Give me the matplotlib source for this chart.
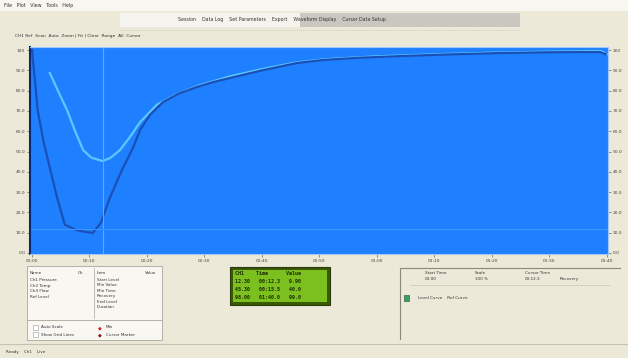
import matplotlib
matplotlib.use('Agg')
import matplotlib.pyplot as plt
from matplotlib.patches import Rectangle

W, H = 628, 358

# curves (x in %, y in %)
dark_x = [0, 1, 2, 3.1, 4.3, 5.7, 7.5, 9, 10.6, 12, 13.6, 15.5, 17.6, 18.8,
          20.5, 22.8, 25.5, 28.7, 31.5, 34.4, 40.2, 46.1, 50.6, 57, 64, 72,
          81.4, 90, 96, 98.8, 99.8]
dark_y = [100, 70, 55, 42, 28, 14, 11.5, 10.5, 9.9, 15, 27.6, 40, 52, 60.6,
          68, 74.4, 78.5, 81.8, 84.2, 86.2, 90.1, 93.6, 95.1, 96.2, 97, 97.8,
          98.5, 98.9, 99, 99, 98]
light_x = [3.1, 4.5, 6.1, 7.5, 8.9, 10.3, 12.3, 13.6, 15.3, 17, 18.8, 21.7,
           25, 29, 34.4, 40, 46, 51, 60, 70, 80, 90, 99, 100]
light_y = [88.7, 80, 70.4, 60, 50.7, 47, 45.3, 46.8, 50.7, 57, 64.5, 73, 78,
           82.5, 87, 90.6, 93.9, 95.5, 96.9, 97.9, 98.7, 99.2, 99.5, 98]
cursor_x = 12.3
cursor_y = 12

x_ticks = list(range(0, 101, 10))
x_labels = ['00:00', '00:10', '00:20', '00:30', '00:40', '00:50',
            '01:00', '01:10', '01:20', '01:30', '01:40']
y_ticks = list(range(0, 101, 10))
y_labels = ['0.0', '10.0', '20.0', '30.0', '40.0', '50.0',
            '60.0', '70.0', '80.0', '90.0', '100']

bg = '#ece9d8'
plot_blue = '#1f80ff'


def fx(px):
    return px / W


def fy(py):
    return 1 - py / H


def rect(x0, y0, x1, y1, **kw):
    fig.add_artist(Rectangle((fx(x0), fy(y1)), fx(x1) - fx(x0),
                             (y1 - y0) / H, transform=fig.transFigure, **kw))


def txt(px, py, s, size=3.6, color='#333333', **kw):
    fig.text(fx(px), fy(py), s, fontsize=size, color=color,
             va='center', **kw)


fig = plt.figure(figsize=(W / 100, H / 100), dpi=100)
fig.patch.set_facecolor(bg)

# menu bar and toolbar
rect(0, 0, W, 11, facecolor='#f7f6f0', edgecolor='none')
txt(4, 6, 'File   Plot   View   Tools   Help', size=3.4)
rect(120, 13, 300, 27, facecolor='#f4f3ee', edgecolor='none')
rect(300, 13, 520, 27, facecolor='#c9c7c0', edgecolor='none')
txt(178, 20, 'Session    Data Log    Set Parameters    Export    '
    'Waveform Display    Cursor Data Setup', size=3.4)
fig.add_artist(plt.Line2D([fx(120), fx(520)], [fy(30), fy(30)],
                          transform=fig.transFigure, color='#b8b6a8',
                          lw=0.5, ls=':'))
txt(15, 36, 'CH1 Ref  Scan  Auto  Zoom | Fit | Clear  Range  All  Cursor',
    size=3.2)

# main plot
ax = fig.add_axes([fx(30), fy(254), (608 - 30) / W, (254 - 47) / H])
ax.set_facecolor(plot_blue)
ax.plot(light_x, light_y, color='#5cc8ff', lw=1.6)
ax.plot(dark_x, dark_y, color='#1a4fb8', lw=1.6)
ax.axvline(cursor_x, color='#5aa8ff', lw=0.8)
ax.axhline(cursor_y, color='#3c95ff', lw=0.8)
ax.set_xlim(-0.35, 100.2)
ax.set_ylim(-0.5, 101.5)
ax.set_xticks(x_ticks)
ax.set_xticklabels(x_labels)
ax.set_yticks(y_ticks)
ax.set_yticklabels(y_labels)
ax.tick_params(labelsize=3.2, colors='#444444', length=2, width=0.4,
               pad=1.5, right=True, labelright=True)
for side in ['top', 'right', 'bottom']:
    ax.spines[side].set_color('#9fc8ff')
    ax.spines[side].set_linewidth(0.8)
ax.spines['left'].set_color('#0a2a70')
ax.spines['left'].set_linewidth(1.5)

# left table panel
rect(27, 266, 162, 340, facecolor='#f8f7f2', edgecolor='#a8a69a', lw=0.6)
fig.add_artist(plt.Line2D([fx(27), fx(162)], [fy(320), fy(320)],
                          transform=fig.transFigure, color='#a8a69a', lw=0.6))
fig.add_artist(plt.Line2D([fx(94), fx(94)], [fy(268), fy(318)],
                          transform=fig.transFigure, color='#a8a69a', lw=0.5))
txt(30, 273, 'Name', size=3)
txt(78, 273, 'Ch', size=3)
for i, s in enumerate(['Ch1 Pressure', 'Ch2 Temp', 'Ch3 Flow', 'Ref Level']):
    txt(30, 280 + i * 5.5, s, size=3)
txt(97, 273, 'Item', size=3)
txt(145, 273, 'Value', size=3)
for i, s in enumerate(['Start Level', 'Min Value', 'Min Time', 'Recovery',
                       'End Level', 'Duration']):
    txt(97, 280 + i * 5.5, s, size=3)
rect(33, 325, 38, 330, facecolor='white', edgecolor='#999999', lw=0.4)
rect(33, 332, 38, 337, facecolor='white', edgecolor='#999999', lw=0.4)
txt(41, 327.5, 'Auto Scale', size=3)
txt(41, 334.5, 'Show Grid Lines', size=3)
fig.text(fx(100), fy(327.5), '\u25c6', color='#d02020', fontsize=3.5,
         ha='center', va='center')
fig.text(fx(100), fy(334.5), '\u25c6', color='#801010', fontsize=3.5,
         ha='center', va='center')
txt(106, 327.5, 'Min', size=3)
txt(106, 334.5, 'Cursor Marker', size=3)

# LCD readout
rect(230, 267, 330, 305, facecolor='#3a5a00', edgecolor='#2a3a10', lw=0.8)
rect(233, 270, 327, 302, facecolor='#7cc020', edgecolor='none')
rows = ['CH1    Time      Value',
        '12.30   00:12.3   9.90',
        '45.30   00:15.5   40.0',
        '98.00   01:40.0   99.0']
for i, s in enumerate(rows):
    txt(235, 273.5 + i * 8, s, size=3.6, color='#1a2a00',
        family='DejaVu Sans Mono', weight='bold')

# right info panel
fig.add_artist(plt.Line2D([fx(400), fx(400), fx(620)],
                          [fy(339), fy(268), fy(268)],
                          transform=fig.transFigure, color='#8a887c', lw=0.8))
fig.add_artist(plt.Line2D([fx(410), fx(610)], [fy(285), fy(285)],
                          transform=fig.transFigure, color='#c8c6b8', lw=0.5))
for px, a, b in [(425, 'Start Time', '00:00'), (475, 'Scale', '100 %'),
                 (525, 'Cursor Time', '00:12.3'), (560, '', 'Recovery')]:
    if a:
        txt(px, 272.5, a, size=3)
    txt(px, 279, b, size=3)
rect(404, 295, 409, 301, facecolor='#3aa060', edgecolor='#205030', lw=0.4)
txt(418, 298, 'Level Curve    Ref Curve', size=3)

# status bar
fig.add_artist(plt.Line2D([fx(0), fx(W)], [fy(344), fy(344)],
                          transform=fig.transFigure, color='#c4c2b4', lw=0.8))
txt(6, 352, 'Ready    Ch1    Live', size=3)

fig.savefig('out.png', dpi=100, facecolor=bg)
